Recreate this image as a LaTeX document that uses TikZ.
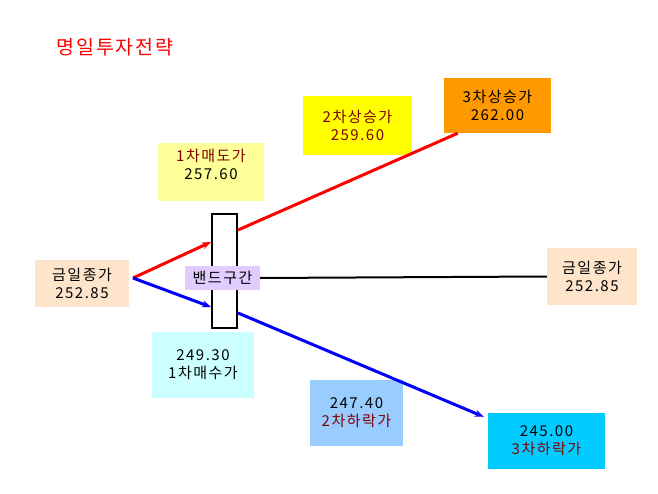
\documentclass[tikz,border=0pt]{standalone}
\usepackage{fontspec}
\setmainfont{Noto Sans CJK KR}[LetterSpace=10]
\usetikzlibrary{arrows.meta,calc}
\definecolor{dred}{HTML}{800000}
\definecolor{cpeach}{HTML}{FFE4CC}
\definecolor{cpaleyel}{HTML}{FFFF99}
\definecolor{cyel}{HTML}{FFFF00}
\definecolor{corange}{HTML}{FF9900}
\definecolor{cpalecyan}{HTML}{CCFFFF}
\definecolor{cskyblue}{HTML}{99CCFF}
\definecolor{ccyan}{HTML}{00CCFF}
\definecolor{clav}{HTML}{E0CCFF}
\begin{document}
\begin{tikzpicture}[x=1pt,y=-1pt,
  box/.style={draw=none, inner sep=0pt, align=center, font=\fontsize{15}{18}\selectfont},
  txt/.style={inner sep=0pt, align=center, font=\fontsize{15}{18}\selectfont},
  redline/.style={draw=red, line width=3pt},
  blueline/.style={draw=blue, line width=3pt},
  tip/.style={-{Stealth[length=9pt,width=7pt]}}
]
\useasboundingbox (0,0) rectangle (658,494);
\fill[white] (0,0) rectangle (658,494);

\node[inner sep=0pt, text=red, font=\fontsize{19.5}{22}\selectfont] (title) at (115,47) {명일투자전략};

% boxes
\node[box, fill=cpeach, minimum width=94pt, minimum height=47pt] (L) at (82,283.5) {금일종가\\252.85};
\node[box, fill=cpaleyel, minimum width=106pt, minimum height=58pt] (S1) at (211,172) {};
\node[txt] (S1t) at (211,164) {\textcolor{dred}{1차매도가}\\257.60};
\node[box, fill=cyel, minimum width=109pt, minimum height=59pt, text=dred] (S2) at (357.5,125.5) {2차상승가\\259.60};
\node[box, fill=corange, minimum width=107pt, minimum height=55pt] (S3) at (497.5,105.5) {3차상승가\\262.00};
\node[box, fill=cpeach, minimum width=90pt, minimum height=57pt] (R) at (592,276.5) {금일종가\\252.85};
\node[box, fill=cpalecyan, minimum width=102pt, minimum height=66pt] (B1) at (203,365) {249.30\\1차매수가};
\node[box, fill=cskyblue, minimum width=93pt, minimum height=66pt] (B2) at (356.5,413) {247.40\\\textcolor{dred}{2차하락가}};
\node[box, fill=ccyan, minimum width=117pt, minimum height=56pt] (B3) at (546.5,441) {245.00\\\textcolor{dred}{3차하락가}};

% band
\node[draw=black, line width=2pt, fill=white, minimum width=25pt, minimum height=114pt, inner sep=0pt] (band) at (224.5,271) {};

% connection points
\coordinate (o) at (133,278);
\coordinate (bu) at ($(band.north west)+(0,29)$);
\coordinate (bd) at ($(band.north west)+(0,94)$);
\coordinate (ru) at ($(band.north east)+(0,17)$);
\coordinate (rd) at ($(band.north east)+(0,100)$);
\coordinate (s3end) at ($(S3.south west)+(14,0)$);
\coordinate (b3end) at ($(B3.north west)+(-4,4)$);

\draw[redline, tip] (o) -- (bu);
\draw[blueline, tip] (o) -- (bd);
\draw[redline] (ru) -- (s3end);
\draw[blueline, tip] (rd) -- (b3end);

\node[box, fill=clav, minimum width=75pt, minimum height=24pt] (bl) at (222.5,278) {밴드구간};
\draw[black, line width=2pt] (bl.east) -- (R.west);
\end{tikzpicture}
\end{document}
